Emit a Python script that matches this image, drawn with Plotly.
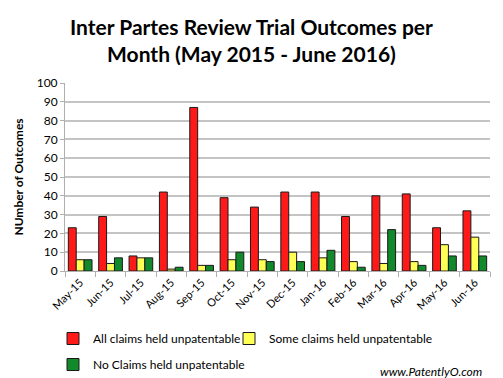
import plotly.graph_objects as go

months = ["May-15", "Jun-15", "Jul-15", "Aug-15", "Sep-15", "Oct-15", "Nov-15",
          "Dec-15", "Jan-16", "Feb-16", "Mar-16", "Apr-16", "May-16", "Jun-16"]
all_claims = [23, 29, 8, 42, 87, 39, 34, 42, 42, 29, 40, 41, 23, 32]
some_claims = [6, 4, 7, 1, 3, 6, 6, 10, 7, 5, 4, 5, 14, 18]
no_claims = [6, 7, 7, 2, 3, 10, 5, 5, 11, 2, 22, 3, 8, 8]
y_ticks = list(range(0, 101, 10))

FONT = "Lato"
PLOT_TOP, PLOT_BOTTOM, PLOT_LEFT, PLOT_RIGHT = 83, 271, 65, 490
PH = PLOT_BOTTOM - PLOT_TOP
PW = PLOT_RIGHT - PLOT_LEFT


def px_y(y):
    return (PLOT_BOTTOM - y) / PH


def px_x(x):
    return (x - PLOT_LEFT) / PW


fig = go.Figure()
series = [
    ("All claims held unpatentable", all_claims, "#ff1a1a", "legend", "a"),
    ("Some claims held unpatentable", some_claims, "#ffff55", "legend2", "b"),
    ("No Claims held unpatentable", no_claims, "#12892a", "legend", "c"),
]
for name, vals, col, leg, grp in series:
    fig.add_trace(go.Bar(
        x=months, y=vals, name=name, legend=leg, legendgroup=grp,
        marker=dict(color=col, line=dict(color="#1a1a1a", width=1)),
    ))

legend_common = dict(
    orientation="v", xanchor="left", yanchor="top", itemwidth=30,
    font=dict(family=FONT, size=12, color="black"),
    traceorder="grouped", tracegroupgap=7, bgcolor="rgba(0,0,0,0)",
    itemclick=False, itemdoubleclick=False,
)

fig.update_layout(
    width=503, height=378,
    margin=dict(l=PLOT_LEFT, r=503 - PLOT_RIGHT, t=PLOT_TOP, b=378 - PLOT_BOTTOM, autoexpand=False),
    paper_bgcolor="white", plot_bgcolor="white",
    barmode="group", bargap=0.22, bargroupgap=0,
    font=dict(family=FONT, color="black"),
    legend=dict(x=px_x(53), y=px_y(324), **legend_common),
    legend2=dict(x=px_x(229), y=px_y(324), **legend_common),
    xaxis=dict(
        showgrid=False, showline=True, linecolor="#b0b0b0", linewidth=1,
        ticks="outside", tickcolor="#b0b0b0", ticklen=5, tickson="boundaries",
        tickangle=-45, tickfont=dict(family=FONT, size=11, color="black"),
    ),
    yaxis=dict(
        range=[0, 100], tickvals=y_ticks,
        showgrid=True, gridcolor="#c4c4c4", gridwidth=2,
        showline=True, linecolor="#b0b0b0", linewidth=1,
        ticks="outside", tickcolor="#b0b0b0", ticklen=4,
        tickfont=dict(family=FONT, size=12, color="black"),
        title=dict(text="NUmber of Outcomes", standoff=10,
                   font=dict(family=FONT, size=12, color="black", weight="bold")),
        zeroline=False,
    ),
    annotations=[
        dict(text="<b>Inter Partes Review Trial Outcomes per<br>Month (May 2015 - June 2016)</b>",
             x=px_x(251), y=px_y(40), xref="paper", yref="paper",
             showarrow=False, xanchor="center", yanchor="middle",
             font=dict(family=FONT, size=21, color="black")),
        dict(text="<i>www.PatentlyO.com</i>", x=px_x(484), y=px_y(371),
             xref="paper", yref="paper", showarrow=False,
             xanchor="right", yanchor="middle",
             font=dict(family=FONT, size=12, color="black")),
    ],
)

fig.write_html("out.html", config={"displayModeBar": False},
               post_script="document.body.style.margin='0';document.body.style.padding='0';")
